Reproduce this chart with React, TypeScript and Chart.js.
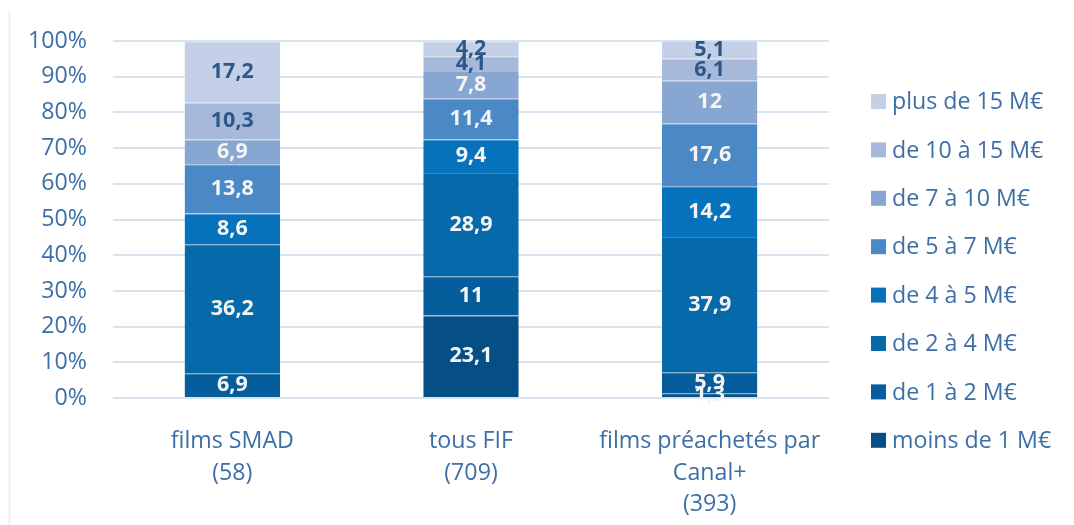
import React, { useEffect, useRef } from "react";
import { Chart, registerables } from "chart.js";

Chart.register(...registerables);

const categories: string[][] = [
  ["films SMAD", "(58)"],
  ["tous FIF", "(709)"],
  ["films préachetés par", "Canal+", "(393)"],
];

const seriesNames = [
  "moins de 1 M€",
  "de 1 à 2 M€",
  "de 2 à 4 M€",
  "de 4 à 5 M€",
  "de 5 à 7 M€",
  "de 7 à 10 M€",
  "de 10 à 15 M€",
  "plus de 15 M€",
];

const moinsDe1 = [0, 23.1, 1.3];
const de1a2 = [6.9, 11, 5.9];
const de2a4 = [36.2, 28.9, 37.9];
const de4a5 = [8.6, 9.4, 14.2];
const de5a7 = [13.8, 11.4, 17.6];
const de7a10 = [6.9, 7.8, 12];
const de10a15 = [10.3, 4.1, 6.1];
const plusDe15 = [17.2, 4.2, 5.1];

const seriesValues = [moinsDe1, de1a2, de2a4, de4a5, de5a7, de7a10, de10a15, plusDe15];

const yTicks = [0, 10, 20, 30, 40, 50, 60, 70, 80, 90, 100];

const colors = ["#054f86", "#055e9b", "#0569aa", "#0672bc", "#4b88c6", "#88a6d2", "#a6b9db", "#c4d0e8"];
const borderColors = ["#3f78a8", "#3f7fb2", "#3f86bd", "#4a8ccb", "#7aa5d4", "#a9bfe0", "#c2d0e7", "#dbe3f1"];
const labelColors = ["#f4f4f4", "#f4f4f4", "#f4f4f4", "#f4f4f4", "#f4f4f4", "#f4f4f4", "#2c5887", "#2c5887"];

const FONT = "'Open Sans', 'Noto Sans', sans-serif";
const AXIS_COLOR = "#3d6fa6";

const dataLabelPlugin = {
  id: "segLabels",
  afterDatasetsDraw(chart: any) {
    const ctx = chart.ctx;
    ctx.save();
    ctx.font = `bold 21.5px ${FONT}`;
    ctx.textAlign = "center";
    ctx.textBaseline = "middle";
    chart.data.datasets.forEach((ds: any, di: number) => {
      const meta = chart.getDatasetMeta(di);
      meta.data.forEach((el: any, i: number) => {
        const v = ds.data[i];
        if (!v) return;
        const cy = (el.y + el.base) / 2;
        ctx.fillStyle = labelColors[di];
        ctx.fillText(String(v).replace(".", ","), el.x, cy);
      });
    });
    ctx.restore();
  },
};

const legendPlugin = {
  id: "customLegend",
  afterDraw(chart: any) {
    const ctx = chart.ctx;
    ctx.save();
    // faint frame line on the left
    ctx.strokeStyle = "#ebebeb";
    ctx.lineWidth = 1.5;
    ctx.beginPath();
    ctx.moveTo(9.5, 11);
    ctx.lineTo(9.5, 525);
    ctx.stroke();

    const n = chart.data.datasets.length;
    const x0 = 871;
    const y0 = 101.5;
    const step = 48.4;
    ctx.font = `23.2px ${FONT}`;
    ctx.textBaseline = "middle";
    ctx.textAlign = "left";
    for (let k = 0; k < n; k++) {
      const di = n - 1 - k;
      const ds = chart.data.datasets[di];
      const cy = y0 + k * step;
      ctx.fillStyle = ds.backgroundColor;
      ctx.fillRect(x0, cy - 7.5, 15, 15);
      ctx.fillStyle = AXIS_COLOR;
      ctx.fillText(ds.label, x0 + 21, cy + 1);
    }
    ctx.restore();
  },
};

export default function App() {
  const ref = useRef<HTMLCanvasElement>(null);
  useEffect(() => {
    if (!ref.current) return;
    const chart = new Chart(ref.current, {
      type: "bar",
      data: {
        labels: categories,
        datasets: seriesNames.map((name, i) => ({
          label: name,
          data: seriesValues[i],
          backgroundColor: colors[i],
          borderColor: borderColors[i],
          borderWidth: { top: 1, bottom: 0, left: 0, right: 0 },
          borderSkipped: false,
          barPercentage: 0.4,
          categoryPercentage: 1,
        })),
      },
      options: {
        animation: false,
        responsive: false,
        maintainAspectRatio: false,
        layout: { padding: { left: 0, right: 245, top: 41, bottom: 0 } },
        plugins: {
          legend: { display: false },
          tooltip: { enabled: false },
        },
        scales: {
          x: {
            stacked: true,
            grid: { display: false },
            border: { display: false },
            ticks: {
              color: AXIS_COLOR,
              font: { family: FONT, size: 23.2, lineHeight: 1.36 },
              padding: 20,
              maxRotation: 0,
              autoSkip: false,
            },
            afterFit(scale: any) {
              scale.height = 127;
            },
          },
          y: {
            stacked: true,
            min: 0,
            max: 100,
            afterBuildTicks(scale: any) {
              scale.ticks = yTicks.map((v) => ({ value: v }));
            },
            grid: { color: "#d8e3f0", lineWidth: 2, drawTicks: false },
            border: { display: false },
            ticks: {
              color: AXIS_COLOR,
              font: { family: FONT, size: 23.2 },
              padding: 26,
              callback: (v: any) => `${v}%`,
            },
            afterFit(scale: any) {
              scale.width = 113;
            },
          },
        },
      },
      plugins: [dataLabelPlugin, legendPlugin],
    });
    return () => chart.destroy();
  }, []);
  return (
    <div style={{ position: "absolute", left: 0, top: 0, width: 1074, height: 525, background: "#fff" }}>
      <canvas ref={ref} width={1074} height={525} style={{ width: 1074, height: 525 }} />
    </div>
  );
}
